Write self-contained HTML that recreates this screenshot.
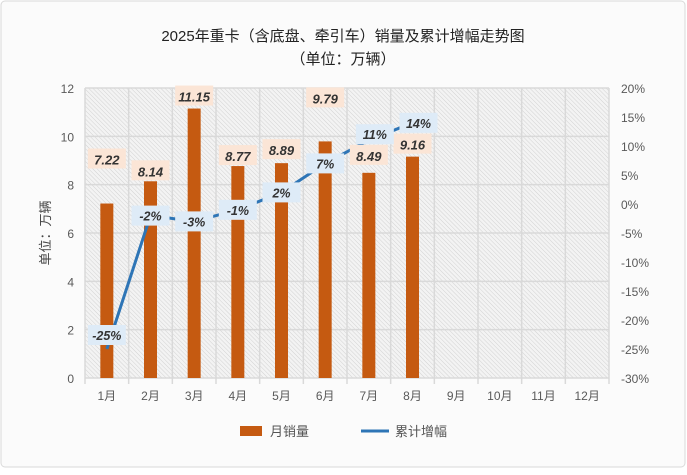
<!DOCTYPE html>
<html><head><meta charset="utf-8"><style>
body{margin:0;background:#fff;font-family:"Liberation Sans","Noto Sans CJK SC",sans-serif}
#wrap{position:relative;width:687px;height:470px}
</style></head><body>
<div id="wrap">
<svg id="c" width="687" height="470">
<defs>
<pattern id="hatch" width="3" height="3" patternUnits="userSpaceOnUse" patternTransform="rotate(-45)">
<rect width="3" height="3" fill="#f3f3f3"/><line x1="0" y1="0" x2="0" y2="3" stroke="#d2d2d2" stroke-width="1"/>
</pattern>
</defs>
<rect x="1" y="1" width="684" height="466" rx="4" fill="#fbfbfb" stroke="#d9d9d9"/>
<text x="343" y="41" text-anchor="middle" font-size="15" fill="#222">2025年重卡（含底盘、牵引车）销量及累计增幅走势图</text>
<text x="343" y="64" text-anchor="middle" font-size="15" fill="#222">（单位：万辆）</text>
<rect x="85" y="88" width="524" height="290" fill="url(#hatch)"/>
<g id="grid"></g><g id="bars"></g><g id="line"></g><g id="labels"></g><g id="axes"></g>
<text transform="translate(50,233) rotate(-90)" text-anchor="middle" font-size="13" fill="#444">单位：万辆</text>
<rect x="240" y="426" width="22" height="10" fill="#c55a11"/>
<text x="270" y="436" font-size="13" fill="#555">月销量</text>
<line x1="361" y1="431" x2="389" y2="431" stroke="#2e75b6" stroke-width="3"/>
<text x="395" y="436" font-size="13" fill="#555">累计增幅</text>
</svg>
</div>
<script>
const categories=["1月","2月","3月","4月","5月","6月","7月","8月","9月","10月","11月","12月"];
const sales=[7.22,8.14,11.15,8.77,8.89,9.79,8.49,9.16];
const growth=[-25,-2,-3,-1,2,7,11,14];
const leftTicks=[0,2,4,6,8,10,12];
const rightTicks=[-30,-25,-20,-15,-10,-5,0,5,10,15,20];
const labelLift=[44,10,12,10,13,43,17,12];
const NS="http://www.w3.org/2000/svg";
const X0=85,X1=609,Y0=378,Y1=88;
const bw=(X1-X0)/categories.length;
const xc=i=>X0+bw*(i+0.5);
const yL=v=>Y0-(v/12)*(Y0-Y1);
const yR=v=>Y0-((v+30)/50)*(Y0-Y1);
function mk(tag,attrs,parent,text){const e=document.createElementNS(NS,tag);for(const k in attrs)e.setAttribute(k,attrs[k]);if(text!==undefined)e.textContent=text;parent.appendChild(e);return e;}
const grid=document.getElementById('grid'),axes=document.getElementById('axes');
leftTicks.forEach(t=>{const l=mk('line',{x1:X0,x2:X1,y1:yL(t),y2:yL(t),stroke:'#d9d9d9','stroke-width':1.5},grid);

const tx=mk('text',{x:X0-11,y:yL(t)+5,'text-anchor':'end','font-size':12,fill:'#595959'},axes,t);
});
for(let i=0;i<=categories.length;i++){const x=X0+bw*i;const l=mk('line',{x1:x,x2:x,y1:Y1,y2:Y0+6,stroke:'#d9d9d9','stroke-width':1.5},grid);
}
rightTicks.forEach(t=>{const tx=mk('text',{x:X1+12,y:yR(t)+5,'font-size':12,fill:'#595959'},axes,t+'%');
});
categories.forEach((c,i)=>{const tx=mk('text',{x:xc(i),y:Y0+22,'text-anchor':'middle','font-size':12,fill:'#595959'},axes,c);
});
const bars=document.getElementById('bars'),labels=document.getElementById('labels');
sales.forEach((v,i)=>{const r=mk('rect',{x:xc(i)-6.5,y:yL(v),width:13,height:Y0-yL(v),fill:'#c55a11'},bars);

const ly=yL(v)-labelLift[i];
const bg=mk('rect',{x:xc(i)-19,y:ly-11,width:38,height:20,fill:'#fbe5d6'},labels);

const t=mk('text',{x:xc(i),y:ly+5,'text-anchor':'middle','font-size':13,'font-weight':'bold','font-style':'italic',fill:'#333'},labels,v.toFixed(2));
});
const pts=growth.map((g,i)=>xc(i)+','+yR(g)).join(' ');
const pl=mk('polyline',{points:pts,fill:'none',stroke:'#2e75b6','stroke-width':3},document.getElementById('line'));

growth.forEach((g,i)=>{const x=xc(i)+(i==6||i==7?6:0),y=yR(g)-(i==0?14:(i==6?6:0));
const bg=mk('rect',{x:x-19,y:y-10,width:38,height:20,fill:'#deebf7'},labels);

const t=mk('text',{x:x,y:y+5,'text-anchor':'middle','font-size':12.5,'font-weight':'bold','font-style':'italic',fill:'#333'},labels,g+'%');
});
</script>
</body></html>
